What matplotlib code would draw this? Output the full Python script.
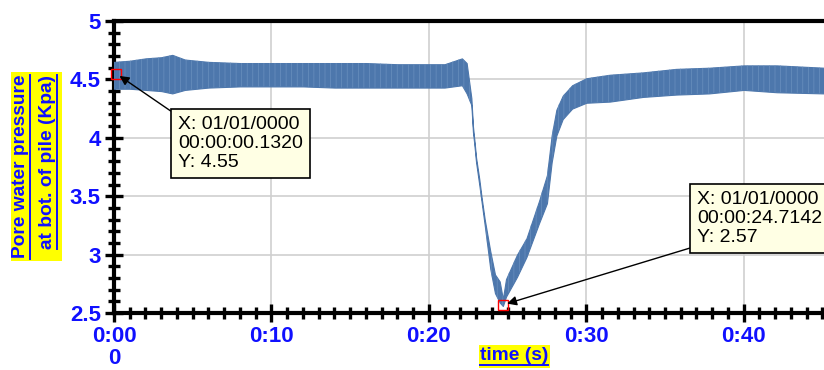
import matplotlib
matplotlib.use('Agg')
import matplotlib.pyplot as plt
from matplotlib.ticker import AutoMinorLocator, FixedLocator
from matplotlib.lines import Line2D
from matplotlib.patches import Rectangle

# огибающая сигнала (время, с / давление, кПа)
t = [0, 1, 2, 3, 3.7, 4.5, 6, 8, 10, 12, 14, 16, 18, 20, 21, 22.1, 22.4, 22.7,
     22.8, 22.9, 23.0, 23.2, 23.35, 23.55, 23.9, 24.2, 24.5, 24.7, 24.9, 25.6,
     26.2, 27.0, 27.5, 27.8, 28.1, 28.5, 29.1, 30, 31.5, 33.6, 35.7, 37.8, 40,
     42.1, 45.1]
upper = [4.65, 4.66, 4.68, 4.69, 4.71, 4.67, 4.65, 4.64, 4.64, 4.64, 4.64, 4.64,
         4.63, 4.63, 4.63, 4.68, 4.64, 4.34, 4.10, 3.97, 3.83, 3.65, 3.49, 3.30,
         3.03, 2.83, 2.77, 2.62, 2.79, 3.00, 3.14, 3.46, 3.68, 4.02, 4.24, 4.36,
         4.45, 4.51, 4.54, 4.56, 4.59, 4.60, 4.62, 4.62, 4.60]
lower = [4.42, 4.42, 4.41, 4.40, 4.38, 4.41, 4.43, 4.44, 4.44, 4.44, 4.43, 4.43,
         4.43, 4.43, 4.43, 4.45, 4.38, 4.28, 4.05, 3.93, 3.79, 3.60, 3.45, 3.25,
         2.88, 2.67, 2.59, 2.56, 2.64, 2.81, 2.98, 3.27, 3.44, 3.79, 4.02, 4.16,
         4.25, 4.30, 4.31, 4.35, 4.37, 4.38, 4.41, 4.39, 4.38]

x_ticks = [0, 10, 20, 30, 40]
x_labels = ['0:00\n0', '0:10', '0:20', '0:30', '0:40']
y_ticks = [2.5, 3, 3.5, 4, 4.5, 5]
y_labels = ['2.5', '3', '3.5', '4', '4.5', '5']

# подсказки с точками данных
tip1 = (0.132, 4.55, 'X: 01/01/0000\n00:00:00.1320\nY: 4.55')
tip2 = (24.7142, 2.57, 'X: 01/01/0000\n00:00:24.7142\nY: 2.57')

blue = '#1010ff'
plt.rcParams['font.family'] = ['Liberation Sans', 'DejaVu Sans']
plt.rcParams['hatch.linewidth'] = 0.5

fig = plt.figure(figsize=(8.24, 3.70), dpi=100)
ax = fig.add_axes([114 / 824, 1 - 313 / 370, 1 - 114 / 824 + 0.02, (313 - 21) / 370])

ax.fill_between(t, lower, upper, color='#4d77ac', lw=0.8, zorder=3)
# вертикальная "штриховка" как у плотного сигнала
ax.fill_between(t, lower, upper, facecolor='none', edgecolor='#6a90bf', lw=0,
                hatch='|||', zorder=3)

ax.set_xlim(0, 45.1 * (1 + 0.02 * 824 / 710))
ax.set_ylim(2.5, 5)
ax.xaxis.set_major_locator(FixedLocator(x_ticks))
ax.set_xticklabels(x_labels)
ax.yaxis.set_major_locator(FixedLocator(y_ticks))
ax.set_yticklabels(y_labels)
ax.xaxis.set_minor_locator(AutoMinorLocator(10))
ax.yaxis.set_minor_locator(AutoMinorLocator(5))
ax.grid(True, which='major', color='#cfcfcf', lw=1.2, zorder=0)

for s in ['left', 'bottom', 'top']:
    ax.spines[s].set_linewidth(3)
ax.spines['right'].set_visible(False)
ax.tick_params(which='major', direction='inout', length=13, width=2.4,
               labelsize=16, labelcolor=blue, pad=3)
ax.tick_params(which='minor', direction='inout', length=8, width=2.4)
ax.tick_params(axis='x', which='major', pad=3)
for lab in ax.get_xticklabels() + ax.get_yticklabels():
    lab.set_fontweight('bold')
for lab in ax.get_xticklabels():
    lab.set_linespacing(1.05)

for tx, ty, txt in [tip1, tip2]:
    ax.plot(tx, ty, 's', mfc='none', mec='red', ms=6.5, mew=1, zorder=5, clip_on=False)
ax.annotate(tip1[2], xy=tip1[:2], xytext=(178, 370 - 116), textcoords='figure pixels',
            ha='left', va='top', fontsize=14, linespacing=1.15,
            bbox=dict(boxstyle='square,pad=0.35', fc='#ffffe4', ec='black', lw=1.2),
            arrowprops=dict(arrowstyle='-|>', color='black', lw=1, relpos=(0, 1),
                            shrinkA=0, shrinkB=3, mutation_scale=14),
            annotation_clip=False, zorder=6)
ax.annotate(tip2[2], xy=tip2[:2], xytext=(697, 370 - 191), textcoords='figure pixels',
            ha='left', va='top', fontsize=14, linespacing=1.15,
            bbox=dict(boxstyle='square,pad=0.35', fc='#ffffe4', ec='black', lw=1.2),
            arrowprops=dict(arrowstyle='-|>', color='black', lw=1, relpos=(0, 0),
                            shrinkA=0, shrinkB=3, mutation_scale=14),
            annotation_clip=False, zorder=6)

# подписи осей: жёлтый фон + подчёркивание
lab_kw = dict(color=blue, fontsize=13.8, fontweight='bold')
yl1 = fig.text(21 / 824, 1 - 75 / 370, 'Pore water pressure', rotation=90,
               ha='center', va='top', **lab_kw)
yl2 = fig.text(48 / 824, 1 - 75 / 370, 'at bot. of pile (Kpa)', rotation=90,
               ha='center', va='top', **lab_kw)
xl = fig.text(514 / 824, 1 - 355 / 370, 'time (s)', ha='center', va='center', **lab_kw)

fig.canvas.draw()
r = fig.canvas.get_renderer()
inv = fig.transFigure.inverted()
b1 = yl1.get_window_extent(r)
b2 = yl2.get_window_extent(r)
bx = xl.get_window_extent(r)

def add_line(p0, p1):
    (x0, y0), (x1, y1) = inv.transform([p0, p1])
    fig.add_artist(Line2D([x0, x1], [y0, y1], color=blue, lw=1.4,
                          transform=fig.transFigure, zorder=4))

def add_bg(x0, y0, x1, y1):
    (a, b), (c, d) = inv.transform([(x0, y0), (x1, y1)])
    fig.add_artist(Rectangle((a, b), c - a, d - b, fc='yellow', ec='none',
                             transform=fig.transFigure, zorder=1))

add_line((b1.x1, b1.y0), (b1.x1, b1.y1))
add_line((b2.x1, b2.y0), (b2.x1, b2.y1))
add_line((bx.x0, bx.y0 - 1), (bx.x1, bx.y0 - 1))
add_bg(min(b1.x0, b2.x0) - 1, min(b1.y0, b2.y0) - 2, max(b1.x1, b2.x1) + 5, max(b1.y1, b2.y1) + 3)
add_bg(bx.x0 - 1, bx.y0 - 4, bx.x1 + 2, bx.y1 + 2)

fig.savefig('out.png', dpi=100)
